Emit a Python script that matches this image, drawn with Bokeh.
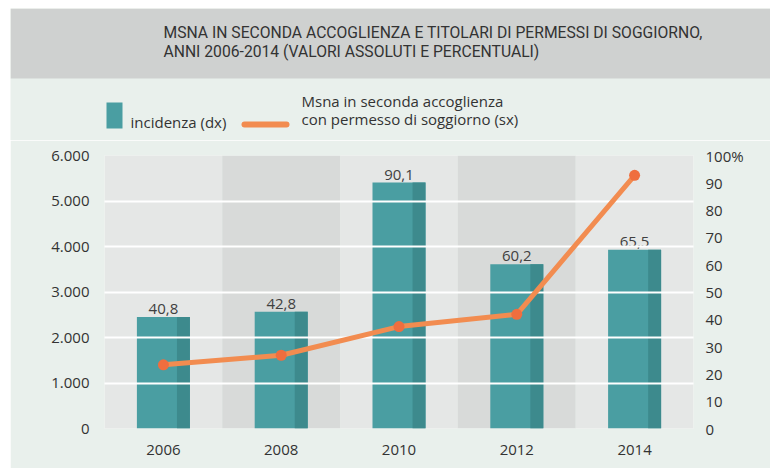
from bokeh.plotting import figure
from bokeh.models import (Range1d, LinearAxis, FixedTicker, FactorRange, ColumnDataSource, Spacer)
from bokeh.transform import dodge
from bokeh.layouts import column, row
from bokeh.core.properties import value
from bokeh.embed import file_html
from bokeh.resources import INLINE

# ---- data ----
years = ["2006", "2008", "2010", "2012", "2014"]
incidenza = [40.8, 42.8, 90.1, 60.2, 65.5]          # % (right axis)
msna_permesso = [1400, 1610, 2240, 2510, 5565]      # counts (left axis)
left_ticks = [0, 1000, 2000, 3000, 4000, 5000, 6000]
left_labels = ["0", "1.000", "2.000", "3.000", "4.000", "5.000", "6.000"]
right_ticks = [0, 10, 20, 30, 40, 50, 60, 70, 80, 90, 100]
right_labels = ["0", "10", "20", "30", "40", "50", "60", "70", "80", "90", "100%"]
title_lines = ["MSNA IN SECONDA ACCOGLIENZA E TITOLARI DI PERMESSI DI SOGGIORNO,",
               "ANNI 2006-2014 (VALORI ASSOLUTI E PERCENTUALI)"]
legend_bar = "incidenza (dx)"
legend_line = ["Msna in seconda accoglienza", "con permesso di soggiorno (sx)"]

BG = "#e9f0ec"
BAND = "#cfd1d0"
TEAL = "#4a9ea2"
TEAL_DARK = "#3d8a8d"
ORANGE = "#f28c50"
ORANGE_PT = "#ef6e3f"
TXT = "#333333"
FONT = "Open Sans"
TFONT = "Roboto"

W = 760

# ---- header figure (title band + legend) ----
h = figure(width=W, height=132, output_backend="svg", toolbar_location=None,
           x_range=Range1d(0, W), y_range=Range1d(132, 0),
           min_border=0, border_fill_color=BG, background_fill_color=BG,
           outline_line_color=None)
h.axis.visible = False
h.grid.visible = False
h.quad(left=0, right=W, top=0, bottom=70, fill_color=BAND, line_color=None)
h.text(x=[153, 153], y=[24, 43], text=title_lines, text_font=value(TFONT),
       text_font_size="15.7px", text_color="#333333", text_baseline="middle")
# legend
h.quad(left=96, right=112, top=94, bottom=120, fill_color=TEAL, line_color=None)
h.text(x=[120], y=[113], text=[legend_bar], text_font=value(FONT),
       text_font_size="15px", text_color=TXT, text_baseline="middle")
h.line(x=[234, 276], y=[116, 116], line_color=ORANGE, line_width=6, line_cap="round")
h.text(x=[291, 291], y=[92, 110], text=legend_line, text_font=value(FONT),
       text_font_size="15px", text_color=TXT, text_baseline="middle")

# ---- main chart ----
p = figure(width=W, height=328, output_backend="svg", toolbar_location=None,
           x_range=FactorRange(*years), y_range=Range1d(0, 6000),
           min_border_left=94, min_border_right=77, min_border_top=15, min_border_bottom=40,
           border_fill_color=BG, background_fill_color=BG, outline_line_color=None)
p.extra_y_ranges = {"pct": Range1d(0, 100)}

src = ColumnDataSource(dict(
    year=years, inc=incidenza, msna=msna_permesso,
    lab=[f"{v:.1f}".replace(".", ",") for v in incidenza],
    band=["#e5e7e6" if i % 2 == 0 else "#d8dad9" for i in range(len(years))],
))

# alternating column bands
p.vbar(x="year", top=6000, bottom=0, width=1.0, fill_color="band", line_color=None, source=src)
# bars (incidenza, right axis)
p.vbar(x="year", top="inc", bottom=0, width=0.45, fill_color=TEAL, line_color=None,
       source=src, y_range_name="pct")
p.vbar(x=dodge("year", 0.17, range=p.x_range), top="inc", bottom=0, width=0.11,
       fill_color=TEAL_DARK, line_color=None, source=src, y_range_name="pct")
p.text(x="year", y="inc", text="lab", source=src, y_range_name="pct",
       text_align="center", text_baseline="bottom", y_offset=-3,
       text_font=value(FONT), text_font_size="15px", text_color="#404040")

# line (left axis)
l1 = p.line(x="year", y="msna", source=src, line_color=ORANGE, line_width=5)
l2 = p.scatter(x="year", y="msna", source=src, size=11, fill_color=ORANGE_PT, line_color=None)
l1.level = "overlay"
l2.level = "overlay"

# grid
p.xgrid.visible = False
p.ygrid.ticker = FixedTicker(ticks=left_ticks[1:])
p.ygrid.grid_line_color = "white"
p.ygrid.grid_line_width = 2
p.ygrid.level = "annotation"

# axes
for ax in [p.xaxis[0], p.yaxis[0]]:
    ax.axis_line_color = None
    ax.major_tick_line_color = None
    ax.minor_tick_line_color = None
    ax.major_label_text_font = FONT
    ax.major_label_text_font_size = "15px"
    ax.major_label_text_color = TXT
p.xaxis.major_label_standoff = 10
p.yaxis.ticker = FixedTicker(ticks=left_ticks)
p.yaxis.major_label_overrides = {t: s for t, s in zip(left_ticks, left_labels)}
p.yaxis.major_label_standoff = 9

ra = LinearAxis(y_range_name="pct", ticker=FixedTicker(ticks=right_ticks),
                major_label_overrides={t: s for t, s in zip(right_ticks, right_labels)},
                axis_line_color=None, major_tick_line_color=None, minor_tick_line_color=None,
                major_label_text_font=FONT, major_label_text_font_size="15px",
                major_label_text_color=TXT, major_label_standoff=6)
p.add_layout(ra, "right")

for f in (h, p):
    f.frame_align = False

layout = row(Spacer(width=10, height=468),
             column(Spacer(width=W, height=8), h, p, spacing=0), spacing=0)
open("out.html", "w").write(file_html(layout, INLINE))
